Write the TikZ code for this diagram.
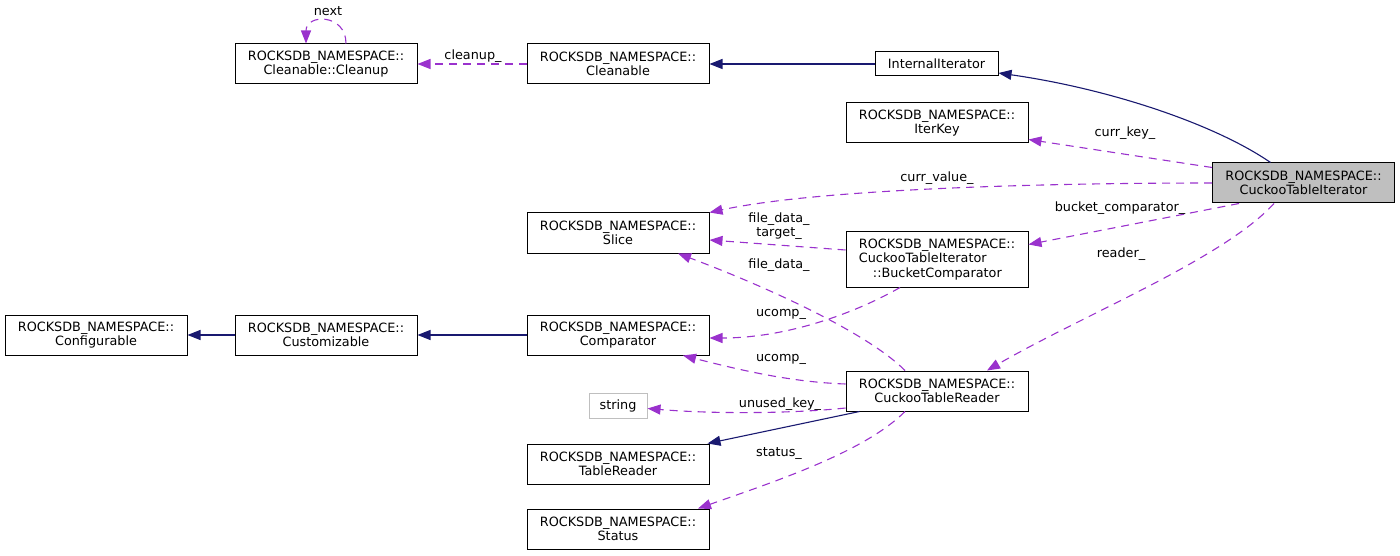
\documentclass[tikz,border=0pt]{standalone}
\usepackage{fontspec}
\setmainfont{DejaVu Sans}
\usetikzlibrary{arrows.meta}
\definecolor{inhc}{HTML}{191970}
\definecolor{usec}{HTML}{9A32CD}
\definecolor{boxgray}{HTML}{BFBFBF}
\begin{document}
\begin{tikzpicture}[x=1pt,y=-1pt,
  font=\fontsize{12.8}{14.5}\selectfont,
  cls/.style={draw=black, line width=1pt, fill=white, minimum width=182pt, minimum height=40pt, inner sep=0pt, align=center},
  lbl/.style={inner sep=0pt, align=center},
  inharrow/.style={draw=inhc, line width=1.1pt, -{Triangle[length=13pt,width=10pt]}},
  usearrow/.style={draw=usec, line width=1.1pt, dash pattern=on 8pt off 6pt, -{Triangle[length=13pt,width=10pt]}}]
\useasboundingbox (0,0) rectangle (1400,556);

% nodes
\node[cls] (cleanup) at (326,64) {ROCKSDB\_NAMESPACE::\\Cleanable::Cleanup};
\node[cls] (cleanable) at (618,64) {ROCKSDB\_NAMESPACE::\\Cleanable};
\node[cls, minimum width=123pt, minimum height=24pt] (intit) at (936.5,64) {InternalIterator};
\node[cls] (iterkey) at (937,123) {ROCKSDB\_NAMESPACE::\\IterKey};
\node[cls, fill=boxgray] (cti) at (1303.5,183) {ROCKSDB\_NAMESPACE::\\CuckooTableIterator};
\node[cls] (slice) at (618,233) {ROCKSDB\_NAMESPACE::\\Slice};
\node[cls, minimum height=55pt, align=left] (bc) at (937,259.5) {ROCKSDB\_NAMESPACE::\\CuckooTableIterator\\\hspace*{14pt}::BucketComparator};
\node[cls] (configurable) at (96,335) {ROCKSDB\_NAMESPACE::\\Configurable};
\node[cls] (customizable) at (326,335) {ROCKSDB\_NAMESPACE::\\Customizable};
\node[cls] (comparator) at (618,335) {ROCKSDB\_NAMESPACE::\\Comparator};
\node[cls] (ctr) at (937,391) {ROCKSDB\_NAMESPACE::\\CuckooTableReader};
\node[cls, draw=boxgray, minimum width=58pt, minimum height=25pt] (string) at (618,405.5) {string};
\node[cls] (tablereader) at (618,464) {ROCKSDB\_NAMESPACE::\\TableReader};
\node[cls] (status) at (618,529) {ROCKSDB\_NAMESPACE::\\Status};

% edges
\draw[usearrow] (cleanable.west) -- (cleanup.east);
\draw[usearrow] ([xshift=20pt]cleanup.north) .. controls +(0,-30) and +(0,-30) .. ([xshift=-20pt]cleanup.north);
\draw[inharrow] (intit.west) -- (cleanable.east);
\draw[inharrow] ([xshift=-33pt]cti.north) .. controls +(-55,-38) and +(112,16) .. ([yshift=-9pt]intit.east);
\draw[usearrow] ([yshift=-5pt]cti.north west) -- ([yshift=4pt]iterkey.south east);
\draw[usearrow] (cti.west) .. controls +(-163,0) and +(111,-24) .. (slice.north east);
\draw[usearrow] ([xshift=27pt]cti.south west) -- ([yshift=15pt]bc.east);
\draw[usearrow] ([xshift=62pt]cti.south west) .. controls +(-50,55) and +(95,-55) .. ([xshift=50pt]ctr.north);
\draw[usearrow] ([yshift=9.5pt]bc.west) -- ([yshift=-7pt]slice.east);
\draw[usearrow] ([xshift=-32pt]ctr.north) .. controls +(-40,-40) and +(80,30) .. ([xshift=60pt]slice.south);
\draw[usearrow] ([xshift=-37pt]bc.south) .. controls +(-40,23) and +(81,0) .. ([yshift=-3pt]comparator.east);
\draw[usearrow] ([yshift=7pt]ctr.west) .. controls +(-56,-2) and +(55,14) .. ([xshift=65pt]comparator.south);
\draw[usearrow] ([yshift=-17pt]ctr.west) .. controls +(-46,5) and +(73,6) .. ([yshift=-3pt]string.east);
\draw[inharrow] ([xshift=14pt]ctr.south west) -- ([xshift=-2pt]tablereader.north east);
\draw[usearrow] ([xshift=-32pt]ctr.south) .. controls +(-40,40) and +(80,-28) .. ([xshift=80pt]status.north);
\draw[inharrow] (comparator.west) -- (customizable.east);
\draw[inharrow] (customizable.west) -- (configurable.east);

% labels
\node[lbl] (lcleanup) at (473,56) {cleanup\_};
\node[lbl] (lnext) at (328,11) {next};
\node[lbl] (lcurrkey) at (1125,133) {curr\_key\_};
\node[lbl] (lcurrval) at (937,178) {curr\_value\_};
\node[lbl] (lbucket) at (1120,208) {bucket\_comparator\_};
\node[lbl] (lreader) at (1121,254) {reader\_};
\node[lbl] (lfile2) at (779,226) {file\_data\_\\target\_};
\node[lbl] (lfile) at (779,265) {file\_data\_};
\node[lbl] (lucomp1) at (781,314) {ucomp\_};
\node[lbl] (lucomp2) at (781,359) {ucomp\_};
\node[lbl] (lunused) at (780,404) {unused\_key\_};
\node[lbl] (lstatus) at (779,454) {status\_};
\end{tikzpicture}
\end{document}
